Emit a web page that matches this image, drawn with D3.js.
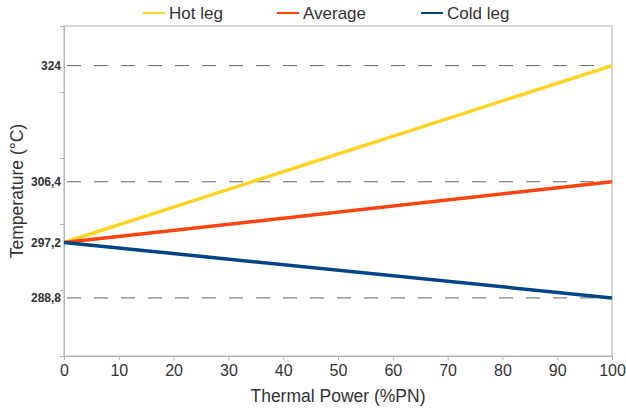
<!DOCTYPE html>
<html>
<head>
<meta charset="utf-8">
<script src="https://cdn.jsdelivr.net/npm/d3@7"></script>
<style>
  body { margin: 0; background: #fff; }
  text { font-family: "Liberation Sans", Arial, sans-serif; }
</style>
</head>
<body>
<script>
// data
var power = [0, 100];
var hotLeg = [297.2, 324];
var average = [297.2, 306.4];
var coldLeg = [297.2, 288.8];
var refTemps = [324, 306.4, 297.2, 288.8];
var refLabels = ["324", "306,4", "297,2", "288,8"];
var dashedTemps = [324, 306.4, 288.8];
var seriesNames = ["Hot leg", "Average", "Cold leg"];
var seriesColors = ["#ffd320", "#ff420e", "#004586"];

var width = 626, height = 408;
var plotL = 64, plotR = 612, plotT = 26, plotB = 356;

var svg = d3.select("body").append("svg")
  .attr("width", width)
  .attr("height", height);

var x = d3.scaleLinear().domain([0, 100]).range([plotL, plotR]);
var y = d3.scaleLinear().domain([280, 330]).range([plotB, plotT]);

// frame
svg.append("rect")
  .attr("x", plotL).attr("y", plotT)
  .attr("width", plotR - plotL).attr("height", plotB - plotT)
  .attr("fill", "none").attr("stroke", "#b3b3b3");

// y axis: unlabeled major ticks
var yAxis = svg.append("g")
  .attr("transform", "translate(" + plotL + ",0)")
  .call(d3.axisLeft(y).tickValues([280, 290, 300, 310, 320, 330]).tickSize(4).tickFormat(""));
yAxis.select(".domain").attr("stroke", "#b3b3b3");
yAxis.selectAll(".tick line").attr("stroke", "#b3b3b3");

// x axis
var xAxis = svg.append("g")
  .attr("transform", "translate(0," + plotB + ")")
  .call(d3.axisBottom(x).ticks(10).tickSize(4).tickPadding(5));
xAxis.select(".domain").attr("stroke", "#b3b3b3");
xAxis.selectAll(".tick line").attr("stroke", "#b3b3b3");
xAxis.selectAll(".tick text")
  .style("font-size", "16px")
  .style("font-family", "Liberation Sans, Arial, sans-serif")
  .attr("fill", "#333");

// dashed reference lines with labels
svg.selectAll(".ref")
  .data(dashedTemps)
  .enter().append("line")
  .attr("x1", plotL + 3).attr("x2", plotR)
  .attr("y1", function(d) { return y(d); })
  .attr("y2", function(d) { return y(d); })
  .attr("stroke", "#666")
  .attr("stroke-width", 1)
  .attr("stroke-dasharray", "14,13");

svg.selectAll(".refLabel")
  .data(refTemps)
  .enter().append("text")
  .attr("x", plotL - 3)
  .attr("y", function(d) { return y(d); })
  .attr("dy", "0.35em")
  .attr("text-anchor", "end")
  .attr("font-size", "12px")
  .attr("font-weight", "bold")
  .attr("fill", "#333")
  .text(function(d, i) { return refLabels[i]; });

// series lines
var line = d3.line()
  .x(function(d, i) { return x(power[i]); })
  .y(function(d) { return y(d); });

[hotLeg, average, coldLeg].forEach(function(s, i) {
  svg.append("path")
    .datum(s)
    .attr("d", line)
    .attr("fill", "none")
    .attr("stroke", seriesColors[i])
    .attr("stroke-width", 3.5);
});

// legend
var legendX = [143, 277, 421];
var legend = svg.selectAll(".legend")
  .data(seriesNames)
  .enter().append("g")
  .attr("transform", function(d, i) { return "translate(" + legendX[i] + ",13)"; });
legend.append("line")
  .attr("x1", 0).attr("x2", 22)
  .attr("stroke", function(d, i) { return seriesColors[i]; })
  .attr("stroke-width", 2);
legend.append("text")
  .attr("x", 26)
  .attr("dy", "0.35em")
  .attr("font-size", "17px")
  .attr("fill", "#333")
  .text(function(d) { return d; });

// axis titles
svg.append("text")
  .attr("x", (plotL + plotR) / 2)
  .attr("y", 402)
  .attr("text-anchor", "middle")
  .attr("font-size", "17.5px")
  .attr("fill", "#333")
  .text("Thermal Power (%PN)");

svg.append("text")
  .attr("transform", "translate(23," + (plotT + plotB) / 2 + ") rotate(-90)")
  .attr("text-anchor", "middle")
  .attr("font-size", "17.5px")
  .attr("fill", "#333")
  .text("Temperature (°C)");
</script>
</body>
</html>
